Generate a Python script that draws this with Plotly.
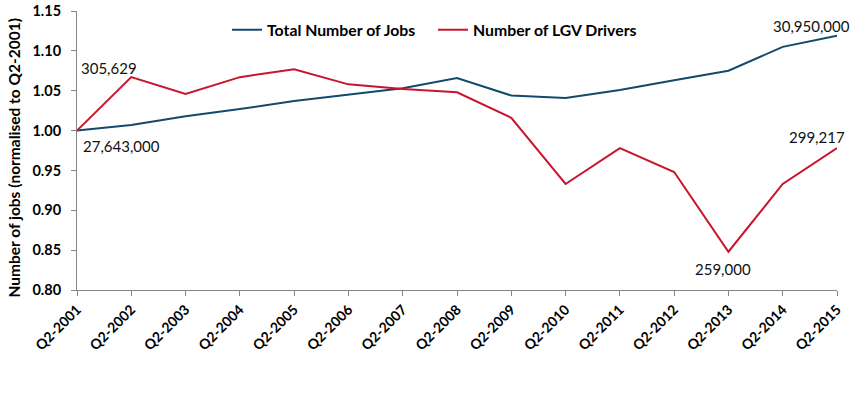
import plotly.graph_objects as go

quarters = ["Q2-2001", "Q2-2002", "Q2-2003", "Q2-2004", "Q2-2005", "Q2-2006", "Q2-2007",
            "Q2-2008", "Q2-2009", "Q2-2010", "Q2-2011", "Q2-2012", "Q2-2013", "Q2-2014", "Q2-2015"]
total_jobs = [1.000, 1.007, 1.018, 1.027, 1.037, 1.045, 1.053, 1.066, 1.044, 1.041,
              1.051, 1.063, 1.075, 1.105, 1.119]
lgv_drivers = [1.000, 1.067, 1.046, 1.067, 1.077, 1.058, 1.052, 1.048, 1.016, 0.933,
               0.978, 0.948, 0.848, 0.933, 0.978]
y_title = "Number of jobs (normalised to Q2-2001)"

annotations_data = [
    # (category, series, text, xshift, yshift)
    ("Q2-2002", "lgv", "305,629", -22, 9),
    ("Q2-2001", "jobs", "27,643,000", 44, -15),
    ("Q2-2015", "jobs", "30,950,000", -26, 10),
    ("Q2-2015", "lgv", "299,217", -20, 11),
    ("Q2-2013", "lgv", "259,000", -5, -17),
]

BLUE = "#124A6C"
RED = "#C8142C"
FONT = "Lato"

fig = go.Figure()
fig.add_trace(go.Scatter(x=quarters, y=total_jobs, mode="lines", name="Total Number of Jobs",
                         line=dict(color=BLUE, width=2)))
fig.add_trace(go.Scatter(x=quarters, y=lgv_drivers, mode="lines", name="Number of LGV Drivers",
                         line=dict(color=RED, width=2)))

series_map = {"jobs": total_jobs, "lgv": lgv_drivers}
for cat, s, txt, xs, ys in annotations_data:
    idx = quarters.index(cat)
    fig.add_annotation(x=cat, y=series_map[s][idx], xref="x", yref="y", text=txt,
                       showarrow=False, xshift=xs, yshift=ys,
                       font=dict(family=FONT, size=15, color="#111111"))

# y-axis title placed as a rotated annotation for exact positioning
fig.add_annotation(text=y_title, xref="paper", yref="paper", x=-0.0835, y=0.473,
                   xanchor="center", yanchor="middle", textangle=-90, showarrow=False,
                   font=dict(family=FONT, size=15.5, weight="bold", color="#000000"))

fig.update_layout(
    width=864, height=393,
    margin=dict(l=77, r=27, t=11, b=103),
    paper_bgcolor="white", plot_bgcolor="white",
    font=dict(family=FONT, size=14, color="#000000"),
    showlegend=True,
    legend=dict(orientation="h", x=0.1974, y=0.932, xanchor="left", yanchor="middle",
                font=dict(family=FONT, size=15.8, weight="bold"), bgcolor="rgba(0,0,0,0)",
                itemwidth=30, tracegroupgap=0, entrywidth=161),
    xaxis=dict(type="category", range=[0, len(quarters) - 1], tickangle=-45,
               showline=True, linecolor="#868686", linewidth=1, ticks="outside",
               tickcolor="#868686", ticklen=5, showgrid=False, zeroline=False,
               automargin=False,
               tickfont=dict(family=FONT, size=14, weight="bold")),
    yaxis=dict(range=[0.80, 1.15], tick0=0.80, dtick=0.05, tickformat=".2f",
               showline=True, linecolor="#868686", linewidth=1, showgrid=False,
               zeroline=False, ticks="outside", ticklen=5, tickcolor="#868686",
               ticklabelstandoff=7, automargin=False,
               tickfont=dict(family=FONT, size=14.5, weight="bold")),
)

fig.write_html("out.html", post_script="document.body.style.margin='0';",
               config={"displayModeBar": False})
